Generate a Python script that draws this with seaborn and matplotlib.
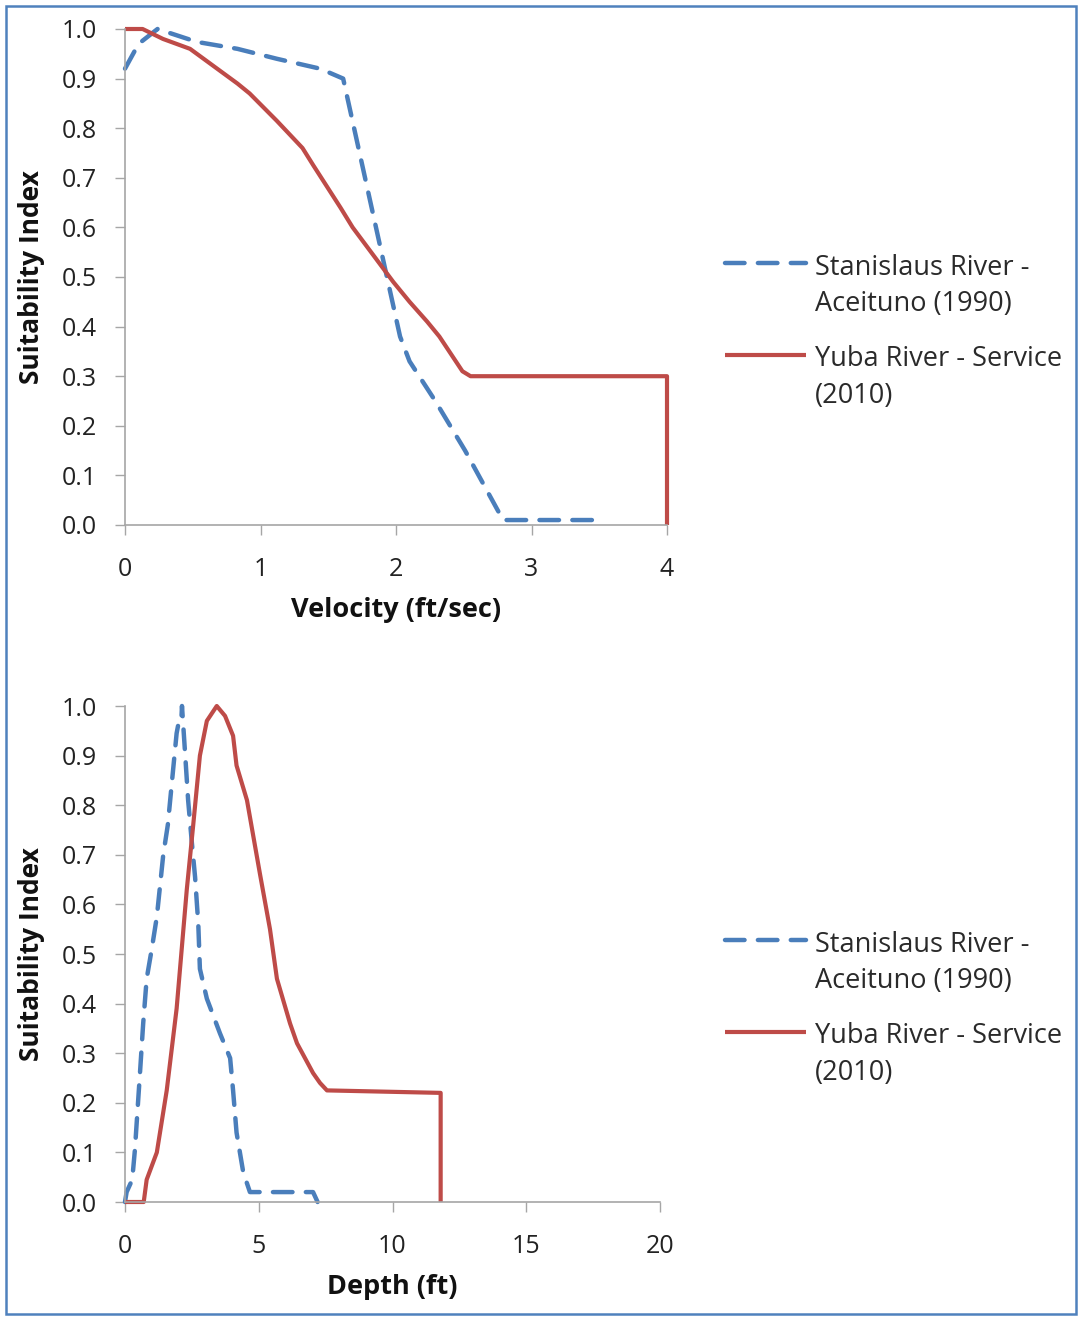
import matplotlib
matplotlib.use("Agg")
import matplotlib.pyplot as plt
import seaborn as sns
import pandas as pd
from matplotlib.patches import Rectangle

# ---- data ----
vel_stan_x = [0, 0.1, 0.24, 0.53, 0.83, 1.12, 1.44, 1.61, 2.03, 2.10, 2.29, 2.51, 2.79, 3.45, 3.5]
vel_stan_y = [0.92, 0.97, 1.0, 0.974, 0.96, 0.94, 0.92, 0.90, 0.38, 0.33, 0.25, 0.15, 0.01, 0.01, 0.0]
vel_yuba_x = [0, 0.13, 0.28, 0.48, 0.63, 0.83, 0.92, 1.12, 1.31, 1.39, 1.59, 1.68, 1.98, 2.10, 2.23,
              2.32, 2.49, 2.55, 4.0, 4.0]
vel_yuba_y = [1.0, 1.0, 0.98, 0.96, 0.93, 0.89, 0.87, 0.815, 0.76, 0.725, 0.64, 0.60, 0.49, 0.45, 0.41,
              0.38, 0.31, 0.30, 0.30, 0.0]

dep_stan_x = [0, 0.06, 0.27, 0.37, 0.56, 0.68, 0.81, 1.0, 1.19, 1.43, 1.6, 1.76, 1.93, 2.0, 2.1, 2.13,
              2.24, 2.36, 2.49, 2.62, 2.74, 2.8, 3.06, 3.55, 3.93, 4.04, 4.17, 4.42, 4.67, 7.03, 7.2]
dep_stan_y = [0, 0.02, 0.045, 0.105, 0.26, 0.36, 0.45, 0.51, 0.575, 0.70, 0.76, 0.85, 0.945, 0.965, 0.965,
              1.0, 0.91, 0.81, 0.73, 0.655, 0.56, 0.47, 0.41, 0.34, 0.29, 0.225, 0.14, 0.06, 0.02, 0.02, 0.0]
dep_yuba_x = [0, 0.7, 0.81, 1.19, 1.56, 1.93, 2.31, 2.55, 2.8, 3.06, 3.43, 3.74, 4.04, 4.17, 4.56, 5.05,
              5.42, 5.68, 6.17, 6.43, 7.03, 7.29, 7.55, 11.8, 11.8]
dep_yuba_y = [0, 0, 0.045, 0.1, 0.225, 0.39, 0.63, 0.76, 0.90, 0.97, 1.0, 0.98, 0.94, 0.88, 0.81, 0.66,
              0.55, 0.45, 0.36, 0.32, 0.26, 0.24, 0.225, 0.22, 0.0]

series_labels = ["Stanislaus River -\nAceituno (1990)", "Yuba River - Service\n(2010)"]
vel_ticks = [0, 1, 2, 3, 4]
dep_ticks = [0, 5, 10, 15, 20]
y_ticks = [0.0, 0.1, 0.2, 0.3, 0.4, 0.5, 0.6, 0.7, 0.8, 0.9, 1.0]

BLUE = "#4a7ebb"
RED = "#be4b48"
GRAY = "#a6a6a6"

sns.set_theme(style="white")
plt.rcParams["font.family"] = ["Open Sans", "DejaVu Sans"]

fig = plt.figure(figsize=(10.78, 13.2), dpi=100)
fig.patches.append(Rectangle((6 / 1078, 6 / 1320), 1070 / 1078, 1308 / 1320, transform=fig.transFigure,
                             fill=False, edgecolor="#4f81bd", linewidth=1.8))

ax1 = fig.add_axes([125 / 1078, (1320 - 525) / 1320, 542 / 1078, 496 / 1320])
ax2 = fig.add_axes([125 / 1078, (1320 - 1202) / 1320, 535 / 1078, 496 / 1320])

LEG_FS = 19.5

def draw(ax, sx, sy, yx, yy, xlim, xticks, xlabel, legend_y):
    d1 = pd.DataFrame({"x": sx, "y": sy})
    d2 = pd.DataFrame({"x": yx, "y": yy})
    sns.lineplot(data=d1, x="x", y="y", ax=ax, sort=False, estimator=None, color=BLUE,
                 linewidth=3.2, linestyle=(0, (4.4, 3.0)), label=series_labels[0], clip_on=False)
    sns.lineplot(data=d2, x="x", y="y", ax=ax, sort=False, estimator=None, color=RED,
                 linewidth=3.0, label=series_labels[1], clip_on=False)
    ax.set_xlim(*xlim)
    ax.set_ylim(0, 1)
    ax.set_xticks(xticks)
    ax.set_xticklabels([str(t) for t in xticks])
    ax.set_yticks(y_ticks)
    ax.set_yticklabels([f"{t:.1f}" for t in y_ticks])
    for s in ["top", "right"]:
        ax.spines[s].set_visible(False)
    for s in ["left", "bottom"]:
        ax.spines[s].set_color(GRAY)
        ax.spines[s].set_linewidth(1.2)
    ax.tick_params(axis="both", which="both", direction="out", length=7, width=1.0, color=GRAY,
                   labelsize=18, labelcolor="#222222", bottom=True, left=True)
    ax.tick_params(axis="x", pad=16)
    ax.tick_params(axis="y", pad=13)
    ax.set_xlabel(xlabel, fontsize=19.5, fontweight="bold", color="#111111", labelpad=11)
    ax.set_ylabel("Suitability Index", fontsize=19, fontweight="bold", color="#111111", labelpad=12)
    for line in ax.lines:
        line.set_solid_capstyle("butt")
        line.set_dash_capstyle("round")
    leg = ax.legend(loc="upper left", bbox_to_anchor=(725 / 1078, legend_y), bbox_transform=fig.transFigure,
                    frameon=False, fontsize=LEG_FS, handlelength=3.0, handletextpad=0.33, labelspacing=1.0,
                    borderaxespad=0, borderpad=0)
    for col in leg._legend_handle_box.get_children():
        col.align = "left"
        for hp in col.get_children():
            hp.align = "top"
    for t in leg.get_texts():
        t.set_color("#2a2a2a")
        t.set_linespacing(1.4)

draw(ax1, vel_stan_x, vel_stan_y, vel_yuba_x, vel_yuba_y, (0, 4), vel_ticks, "Velocity (ft/sec)",
     1 - 254 / 1320)
draw(ax2, dep_stan_x, dep_stan_y, dep_yuba_x, dep_yuba_y, (0, 20), dep_ticks, "Depth (ft)",
     1 - 931 / 1320)

fig.savefig("out.png", dpi=100, facecolor="white")
